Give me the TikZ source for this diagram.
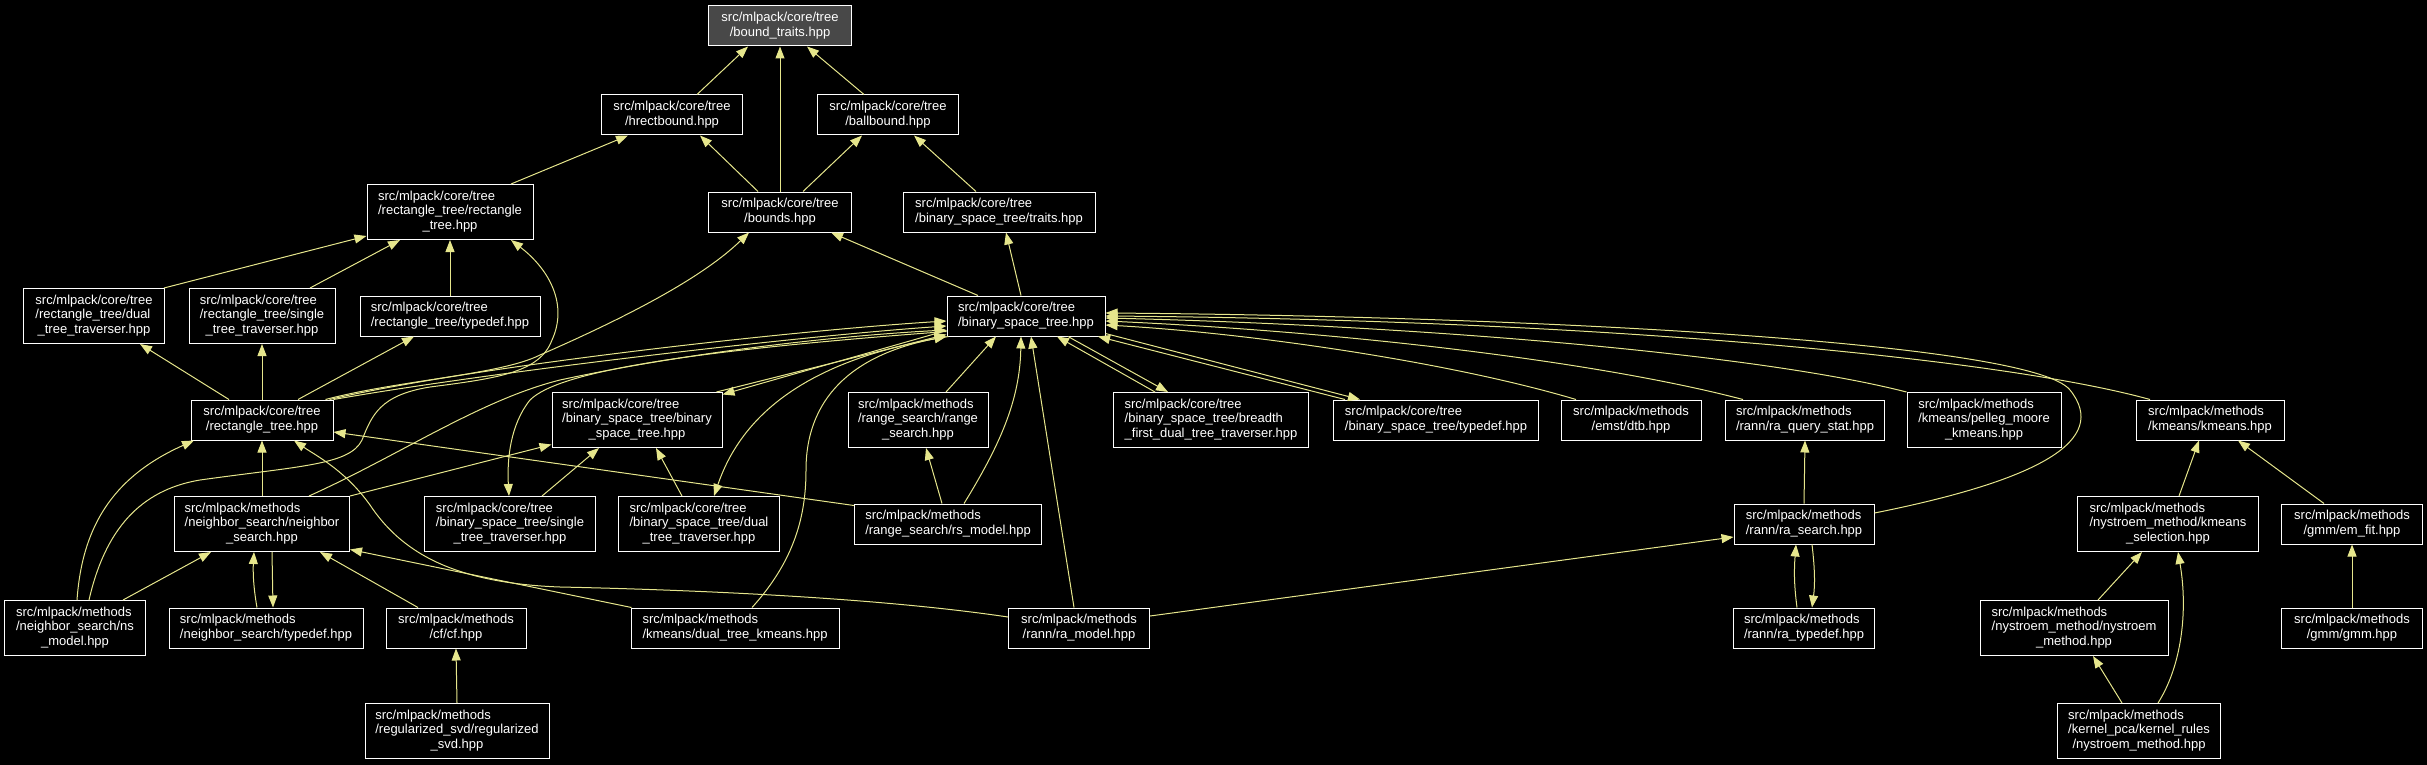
\documentclass[tikz,border=0pt]{standalone}
\usepackage{fontspec}
\setmainfont{Liberation Sans}
\usetikzlibrary{arrows.meta}
\definecolor{edgec}{HTML}{E6E68C}
\definecolor{topfill}{HTML}{484848}
\newcommand{\twoline}[2]{\begin{tabular}{@{}l@{}}#1\\\multicolumn{1}{@{}c@{}}{#2}\end{tabular}}
\newcommand{\threeline}[3]{\begin{tabular}{@{}l@{}}#1\\#2\\\multicolumn{1}{@{}c@{}}{#3}\end{tabular}}
\begin{document}
\begin{tikzpicture}[x=1pt,y=-1pt,
  nd/.style={draw=white, line width=1pt, fill=black, text=white, inner sep=0pt, minimum height=40pt, font=\fontsize{13}{14.5}\selectfont},
  tall/.style={minimum height=55pt},
  ed/.style={draw=edgec, line width=1pt, -{Triangle[length=12pt,width=9pt]}}]
\path[fill=black, use as bounding box] (0,0) rectangle (2427,765);

% nodes
\node[nd, fill=topfill, minimum width=143pt] (bt) at (780,26) {\twoline{src/mlpack/core/tree}{/bound\_traits.hpp}};
\node[nd, minimum width=141pt] (hrect) at (672,115) {\twoline{src/mlpack/core/tree}{/hrectbound.hpp}};
\node[nd, minimum width=141pt] (ball) at (888,115) {\twoline{src/mlpack/core/tree}{/ballbound.hpp}};
\node[nd, minimum width=143pt] (bounds) at (780,212) {\twoline{src/mlpack/core/tree}{/bounds.hpp}};
\node[nd, tall, minimum width=166pt] (rectrect) at (450,212) {\threeline{src/mlpack/core/tree}{/rectangle\_tree/rectangle}{\_tree.hpp}};
\node[nd, minimum width=192pt] (bsttraits) at (999,212) {\twoline{src/mlpack/core/tree}{/binary\_space\_tree/traits.hpp}};
\node[nd, tall, minimum width=141pt] (rectdual) at (94,316) {\threeline{src/mlpack/core/tree}{/rectangle\_tree/dual}{\_tree\_traverser.hpp}};
\node[nd, tall, minimum width=146pt] (rectsingle) at (262,316) {\threeline{src/mlpack/core/tree}{/rectangle\_tree/single}{\_tree\_traverser.hpp}};
\node[nd, minimum width=180pt] (recttypedef) at (450,316) {\twoline{src/mlpack/core/tree}{/rectangle\_tree/typedef.hpp}};
\node[nd, minimum width=158pt] (bst) at (1026,316) {\twoline{src/mlpack/core/tree}{/binary\_space\_tree.hpp}};
\node[nd, minimum width=142pt] (recttree) at (262,420) {\twoline{src/mlpack/core/tree}{/rectangle\_tree.hpp}};
\node[nd, tall, minimum width=170pt] (binary) at (637,420) {\threeline{src/mlpack/core/tree}{/binary\_space\_tree/binary}{\_space\_tree.hpp}};
\node[nd, tall, minimum width=140pt] (rangesearch) at (918,420) {\threeline{src/mlpack/methods}{/range\_search/range}{\_search.hpp}};
\node[nd, tall, minimum width=195pt] (breadth) at (1211,420) {\threeline{src/mlpack/core/tree}{/binary\_space\_tree/breadth}{\_first\_dual\_tree\_traverser.hpp}};
\node[nd, minimum width=205pt] (bsttypedef) at (1436,420) {\twoline{src/mlpack/core/tree}{/binary\_space\_tree/typedef.hpp}};
\node[nd, minimum width=140pt] (dtb) at (1631,420) {\twoline{src/mlpack/methods}{/emst/dtb.hpp}};
\node[nd, minimum width=159pt] (raquery) at (1805,420) {\twoline{src/mlpack/methods}{/rann/ra\_query\_stat.hpp}};
\node[nd, tall, minimum width=154pt] (pelleg) at (1984,420) {\threeline{src/mlpack/methods}{/kmeans/pelleg\_moore}{\_kmeans.hpp}};
\node[nd, minimum width=148pt] (kmeans) at (2210,420) {\twoline{src/mlpack/methods}{/kmeans/kmeans.hpp}};
\node[nd, tall, minimum width=175pt] (neighbor) at (262,524) {\threeline{src/mlpack/methods}{/neighbor\_search/neighbor}{\_search.hpp}};
\node[nd, tall, minimum width=171pt] (bstsingle) at (510,524) {\threeline{src/mlpack/core/tree}{/binary\_space\_tree/single}{\_tree\_traverser.hpp}};
\node[nd, tall, minimum width=161pt] (bstdual) at (699,524) {\threeline{src/mlpack/core/tree}{/binary\_space\_tree/dual}{\_tree\_traverser.hpp}};
\node[nd, minimum width=187pt] (rsmodel) at (948,524) {\twoline{src/mlpack/methods}{/range\_search/rs\_model.hpp}};
\node[nd, minimum width=140pt] (rasearch) at (1804,524) {\twoline{src/mlpack/methods}{/rann/ra\_search.hpp}};
\node[nd, tall, minimum width=181pt] (kmsel) at (2168,524) {\threeline{src/mlpack/methods}{/nystroem\_method/kmeans}{\_selection.hpp}};
\node[nd, minimum width=141pt] (emfit) at (2352,524) {\twoline{src/mlpack/methods}{/gmm/em\_fit.hpp}};
\node[nd, tall, minimum width=141pt] (nsmodel) at (75,628) {\threeline{src/mlpack/methods}{/neighbor\_search/ns}{\_model.hpp}};
\node[nd, minimum width=194pt] (nstypedef) at (266,628) {\twoline{src/mlpack/methods}{/neighbor\_search/typedef.hpp}};
\node[nd, minimum width=140pt] (cf) at (456,628) {\twoline{src/mlpack/methods}{/cf/cf.hpp}};
\node[nd, minimum width=208pt] (dualkmeans) at (735,628) {\twoline{src/mlpack/methods}{/kmeans/dual\_tree\_kmeans.hpp}};
\node[nd, minimum width=141pt] (ramodel) at (1079,628) {\twoline{src/mlpack/methods}{/rann/ra\_model.hpp}};
\node[nd, minimum width=141pt] (ratypedef) at (1804,628) {\twoline{src/mlpack/methods}{/rann/ra\_typedef.hpp}};
\node[nd, tall, minimum width=188pt] (nystroem) at (2074,628) {\threeline{src/mlpack/methods}{/nystroem\_method/nystroem}{\_method.hpp}};
\node[nd, minimum width=141pt] (gmm) at (2352,628) {\twoline{src/mlpack/methods}{/gmm/gmm.hpp}};
\node[nd, tall, minimum width=184pt] (svd) at (457,731) {\threeline{src/mlpack/methods}{/regularized\_svd/regularized}{\_svd.hpp}};
\node[nd, tall, minimum width=163pt] (kernelrules) at (2139,731) {\threeline{src/mlpack/methods}{/kernel\_pca/kernel\_rules}{/nystroem\_method.hpp}};

% edges (arrow points at the included file)
\draw[ed] ([xshift=25pt]hrect.north) -- ([xshift=-32pt]bt.south);
\draw[ed] (bounds.north) -- (bt.south);
\draw[ed] ([xshift=-24pt]ball.north) -- ([xshift=27pt]bt.south);
\draw[ed] ([xshift=-22pt]bounds.north) -- ([xshift=28pt]hrect.south);
\draw[ed] ([xshift=23pt]bounds.north) -- ([xshift=-26pt]ball.south);
\draw[ed] ([xshift=-23pt]bsttraits.north) -- ([xshift=26pt]ball.south);
\draw[ed] ([xshift=61pt]rectrect.north) -- ([xshift=-44pt]hrect.south);
\draw[ed] ([xshift=-48pt]bst.north) -- ([xshift=51pt]bounds.south);
\draw[ed] ([xshift=-5pt]bst.north) -- ([xshift=7pt]bsttraits.south);

\draw[ed] ([xshift=-1pt]rectdual.north east) -- ([yshift=4pt]rectrect.south west);
\draw[ed] ([xshift=48pt]rectsingle.north) -- ([xshift=-50pt]rectrect.south);
\draw[ed] (recttypedef.north) -- (rectrect.south);
\draw[ed] ([xshift=-33pt]recttree.north) -- ([xshift=46pt]rectdual.south);
\draw[ed] (recttree.north) -- (rectsingle.south);
\draw[ed] ([xshift=36pt]recttree.north) -- ([xshift=-36pt]recttypedef.south);
\draw[ed] ([xshift=-8pt]recttree.north east) .. controls (400,380) and (500,375) .. (540,355)
  .. controls (620,320) and (700,280) .. ([xshift=-31pt]bounds.south);
\draw[ed] ([xshift=-4pt]recttree.north east) .. controls (480,365) and (800,330) .. ([yshift=-5pt]bst.west);
\draw[ed] (recttree.north east) .. controls (490,372) and (800,336) .. ([yshift=-10pt]bst.west);

\draw[ed] ([xshift=14pt]nsmodel.north) .. controls (105,530) and (140,490) .. (200,480)
  .. controls (300,466) and (350,465) .. (362,440)
  .. controls (372,415) and (380,395) .. (430,387)
  .. controls (500,378) and (540,372) .. (552,340)
  .. controls (568,305) and (550,270) .. ([xshift=61pt]rectrect.south);
\draw[ed] ([xshift=2pt]nsmodel.north) .. controls (82,530) and (110,478) .. ([xshift=-68pt]recttree.south);
\draw[ed] ([xshift=48pt]nsmodel.north) -- ([xshift=-51pt]neighbor.south);
\draw[ed] (neighbor.north) -- (recttree.south);
\draw[ed] ([xshift=47pt]neighbor.north) .. controls (400,455) and (480,400) .. (560,380)
  .. controls (700,350) and (850,335) .. ([yshift=-14pt]bst.west);
\draw[ed] (neighbor.north east) -- ([yshift=3.5pt]binary.south west);
\draw[ed] ([xshift=-9pt]nstypedef.north) .. controls (253,585) and (253,570) .. ([xshift=-8pt]neighbor.south);
\draw[ed] ([xshift=10pt]neighbor.south) -- ([xshift=7pt]nstypedef.north);
\draw[ed] ([xshift=-38pt]cf.north) -- ([xshift=58pt]neighbor.south);
\draw[ed] (svd.north) -- (cf.south);
\draw[ed] ([xshift=1pt]dualkmeans.north west) -- ([yshift=2.5pt]neighbor.south east);
\draw[ed] ([xshift=17pt]dualkmeans.north) .. controls (795,560) and (806,515) .. (806,470)
  .. controls (806,400) and (850,355) .. (bst.south west);

\draw[ed] ([yshift=11pt]ramodel.west) .. controls (880,598) and (700,590) .. (560,587)
  .. controls (450,583) and (400,550) .. (370,505)
  .. controls (345,470) and (315,455) .. ([xshift=32pt]recttree.south);
\draw[ed] ([xshift=-5pt]ramodel.north) -- ([xshift=5pt]bst.south);
\draw[ed] ([yshift=12pt]ramodel.east) -- ([yshift=-13pt]rasearch.west);
\draw[ed] ([yshift=-2pt]rsmodel.north west) -- ([yshift=-12pt]recttree.east);
\draw[ed] ([xshift=-6pt]rsmodel.north) -- ([xshift=8pt]rangesearch.south);
\draw[ed] ([xshift=16pt]rsmodel.north) .. controls (1000,445) and (1020,400) .. ([xshift=-5pt]bst.south);
\draw[ed] ([xshift=28pt]rangesearch.north) -- ([xshift=-30pt]bst.south);

\draw[ed] ([yshift=6pt]bst.south west) -- ([yshift=-2.5pt]binary.north east);
\draw[ed] ([xshift=-6pt]binary.north east) -- ([yshift=2pt]bst.south west);
\draw[ed] ([yshift=5pt]bst.south west) .. controls (700,350) and (560,370) .. (530,400)
  .. controls (510,425) and (507,460) .. ([xshift=-1pt]bstsingle.north);
\draw[ed] ([xshift=2pt]bst.south west) .. controls (800,360) and (740,420) .. ([xshift=15pt]bstdual.north);
\draw[ed] ([xshift=32pt]bstsingle.north) -- ([xshift=-38pt]binary.south);
\draw[ed] ([xshift=-17pt]bstdual.north) -- ([xshift=19pt]binary.south);
\draw[ed] ([xshift=-56pt]breadth.north) -- ([xshift=31pt]bst.south);
\draw[ed] ([xshift=42pt]bst.south) -- ([xshift=-43pt]breadth.north);
\draw[ed] ([xshift=-91pt]bsttypedef.north) -- ([xshift=72pt]bst.south);
\draw[ed] ([yshift=3pt]bst.south east) -- ([xshift=-76pt]bsttypedef.north);
\draw[ed] ([xshift=-55pt]dtb.north) .. controls (1450,362) and (1250,333) .. ([yshift=-9pt]bst.east);
\draw[ed] ([xshift=-62pt]raquery.north) .. controls (1600,362) and (1350,332) .. ([yshift=-5pt]bst.east);
\draw[ed] (pelleg.north west) .. controls (1750,352) and (1400,325) .. ([yshift=-2pt]bst.east);
\draw[ed] ([xshift=-60pt]kmeans.north) .. controls (2000,358) and (1600,320) .. (bst.east);
\draw[ed] ([yshift=11pt]rasearch.east) .. controls (2040,480) and (2110,440) .. (2070,390)
  .. controls (2030,340) and (1500,316) .. ([yshift=3pt]bst.east);

\draw[ed] (rasearch.north) -- (raquery.south);
\draw[ed] ([xshift=-7pt]ratypedef.north) .. controls (1794,585) and (1794,570) .. ([xshift=-8pt]rasearch.south);
\draw[ed] ([xshift=8pt]rasearch.south) .. controls (1815,570) and (1815,585) .. ([xshift=8pt]ratypedef.north);
\draw[ed] ([xshift=11pt]kmsel.north) -- ([xshift=-11pt]kmeans.south);
\draw[ed] ([xshift=-28pt]emfit.north) -- ([xshift=28pt]kmeans.south);
\draw[ed] (gmm.north) -- (emfit.south);
\draw[ed] ([xshift=24pt]nystroem.north) -- ([xshift=-26pt]kmsel.south);
\draw[ed] ([xshift=-17pt]kernelrules.north) -- ([xshift=19pt]nystroem.south);
\draw[ed] ([xshift=19pt]kernelrules.north) .. controls (2182,665) and (2188,610) .. ([xshift=10pt]kmsel.south);
\end{tikzpicture}
\end{document}
